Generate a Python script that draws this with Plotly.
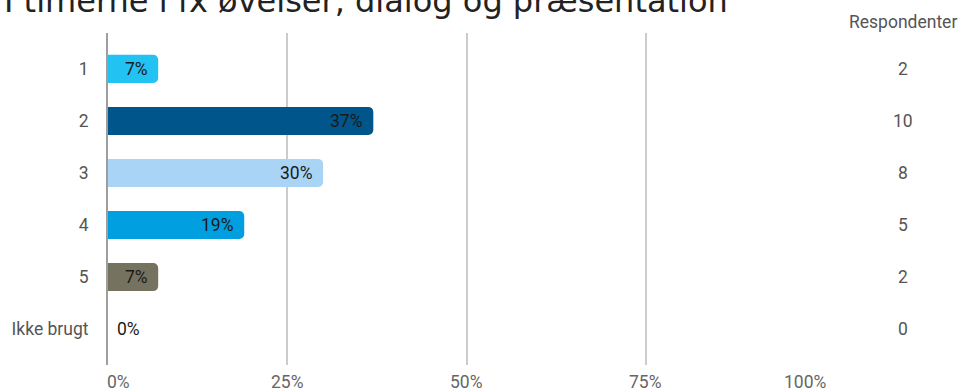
import plotly.graph_objects as go

categories = ["1", "2", "3", "4", "5", "Ikke brugt"]
respondents = [2, 10, 8, 5, 2, 0]
percent = [7, 37, 30, 19, 7, 0]
pct_labels = ["7%", "37%", "30%", "19%", "7%", "0%"]
bar_colors = ["#22C3F3", "#00558A", "#A9D4F5", "#009FE0", "#767260", "#CCCCCC"]
x_ticks = [0, 25, 50, 75, 100]
x_tick_labels = ["0%", "25%", "50%", "75%", "100%"]
x_tick_anchor = ["left", "center", "center", "center", "right"]
x_tick_shift = [-3, 0, 0, 0, 4]
title_text = "I timerne i fx øvelser, dialog og præsentation"
right_header = "Respondenter"

W, H = 961, 392
L, R, T, B = 105, 136, 33, 27
PW = W - L - R
PH = H - T - B
FS = 17.5

fig = go.Figure()
fig.add_trace(go.Bar(
    x=percent, y=categories, orientation="h",
    marker=dict(color=bar_colors, cornerradius=5, line=dict(width=0)),
    width=0.54, hoverinfo="skip", showlegend=False,
))

anns = []
for i, (p, lab) in enumerate(zip(percent, pct_labels)):
    if p > 0:
        anns.append(dict(x=p, y=i, xref="x", yref="y", text=lab, showarrow=False,
                         xanchor="right", xshift=-8,
                         font=dict(family="Roboto", size=FS, color="#1a1a1a")))
    else:
        anns.append(dict(x=p, y=i, xref="x", yref="y", text=lab, showarrow=False,
                         xanchor="left", xshift=7,
                         font=dict(family="Roboto", size=FS, color="#1a1a1a")))

right_x = 1 + (903 - (L + PW)) / PW
for i, r in enumerate(respondents):
    anns.append(dict(x=right_x, y=i, xref="paper", yref="y", text=str(r), showarrow=False,
                     xanchor="center", font=dict(family="Roboto", size=FS, color="#555555")))
anns.append(dict(x=right_x, y=1 + (T - 22) / PH, xref="paper", yref="paper", text=right_header,
                 showarrow=False, xanchor="center", yanchor="middle",
                 font=dict(family="Roboto", size=FS, color="#555555")))

for v, lab, anc, sh in zip(x_ticks, x_tick_labels, x_tick_anchor, x_tick_shift):
    anns.append(dict(x=v, y=-(382 - (T + PH)) / PH, xref="x", yref="paper", text=lab,
                     showarrow=False, xanchor=anc, yanchor="middle", xshift=sh,
                     font=dict(family="Roboto", size=FS, color="#666666")))

anns.append(dict(x=-(L + 1) / PW, y=1 + (T - 22) / PH, xref="paper", yref="paper", text=title_text,
                 showarrow=False, xanchor="left", yanchor="bottom",
                 font=dict(family="DejaVu Sans", size=32, color="#222222")))

fig.update_layout(
    width=W, height=H,
    margin=dict(l=L, r=R, t=T, b=B, pad=0),
    plot_bgcolor="white", paper_bgcolor="white",
    annotations=anns,
    xaxis=dict(range=[0, 100], tickvals=x_ticks, showticklabels=False, showgrid=True,
               gridcolor="#CCCCCC", gridwidth=1.5, zeroline=False, showline=False, fixedrange=True),
    yaxis=dict(type="category", categoryorder="array", categoryarray=categories,
               range=[len(categories) - 1 + 0.69, -0.69], showgrid=False, zeroline=False,
               showline=True, linecolor="#9E9E9E", linewidth=2,
               ticks="", ticklabelstandoff=14, fixedrange=True,
               tickfont=dict(family="Roboto", size=FS, color="#555555")),
)

fig.write_html("out.html", config={"displayModeBar": False},
               post_script="document.body.style.margin='0';")
